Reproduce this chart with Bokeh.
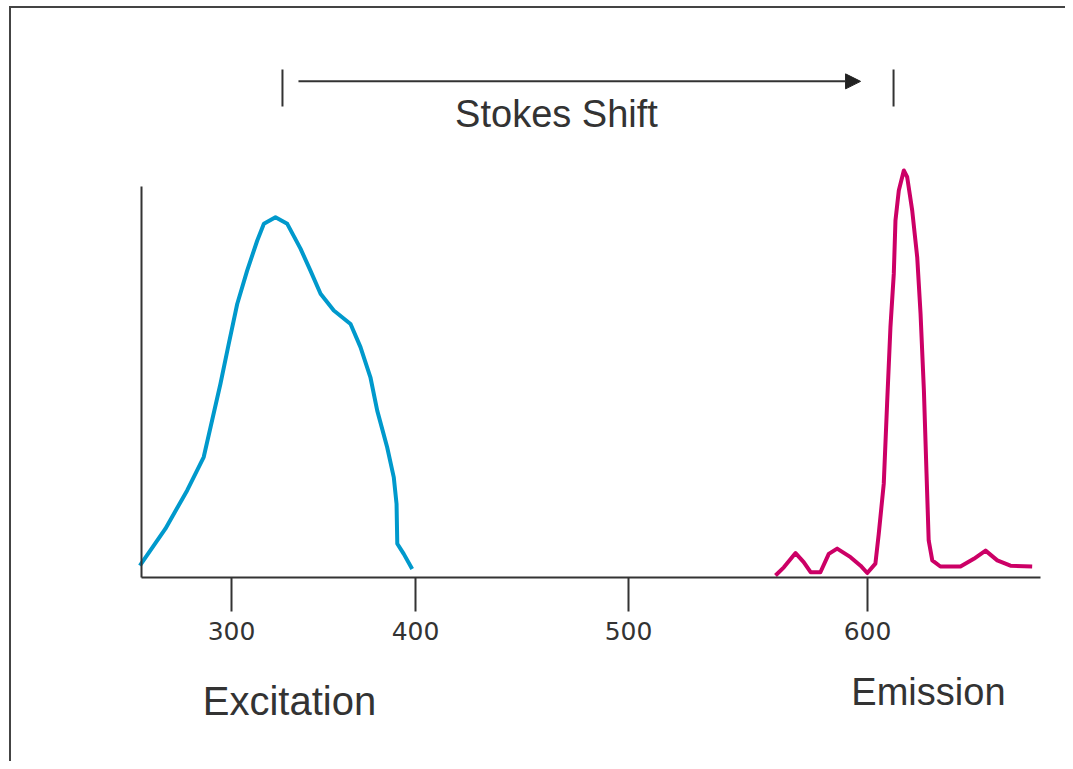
import numpy as np
from bokeh.plotting import figure
from bokeh.models import Range1d, FixedTicker, Arrow, NormalHead, Label
from bokeh.embed import file_html
from bokeh.resources import INLINE

# ---- nonlinear wavelength scale as drawn on the reference axis ----
tick_nm = [300, 400, 500, 600]
tick_labels = ["300", "400", "500", "600"]
tick_pos = [0, 184, 397, 636]  # relative axis positions of the ticks

# ---- data ----
exc_nm = [250.2, 264.1, 275.9, 284.9, 288.6, 294.0, 298.5, 303.1, 308.5, 314.0,
          317.6, 323.9, 330.3, 337.5, 342.9, 348.4, 355.6, 364.7, 370.1, 375.5,
          379.2, 384.6, 388.2, 389.7, 390.1, 393.6, 398.2]
exc_int = [2.9, 12.0, 21.4, 29.6, 36.9, 47.6, 57.4, 67.2, 75.4, 82.8,
           86.9, 88.5, 86.9, 80.8, 75.4, 69.7, 65.6, 62.3, 56.6, 49.2,
           41.0, 32.0, 24.6, 18.1, 8.3, 5.8, 2.1]

em_nm = [561.5, 565.0, 569.9, 573.3, 576.2, 580.3, 583.8, 587.3, 592.9, 597.1,
         599.9, 603.3, 604.7, 606.8, 608.2, 609.6, 611.0, 611.7, 613.1, 615.2,
         616.6, 618.7, 620.8, 622.2, 623.6, 624.7, 625.6, 627.1, 630.5, 638.9,
         644.5, 649.4, 654.3, 659.8, 668.9]
em_int = [0.5, 2.5, 6.0, 3.8, 1.3, 1.3, 5.8, 7.1, 5.0, 2.9,
          1.1, 3.4, 10.7, 23.0, 42.7, 61.5, 74.6, 87.7, 95.1, 100.0,
          98.4, 90.2, 78.7, 64.8, 45.9, 25.5, 9.1, 4.2, 2.7, 2.7,
          4.6, 6.6, 4.2, 2.9, 2.7]

stokes_nm = [327.7, 610.9]       # vertical markers
stokes_arrow_nm = [336.4, 597.1]  # arrow start / end
axis_nm = [251.2, 672.4]          # extent of the wavelength axis line
yaxis_top = 96.1

BLUE = "#0099cc"
MAGENTA = "#cc0066"
INK = "#333333"


def pos(nm):
    nm = np.asarray(nm, dtype=float)
    lo = (tick_pos[1] - tick_pos[0]) / (tick_nm[1] - tick_nm[0])
    hi = (tick_pos[-1] - tick_pos[-2]) / (tick_nm[-1] - tick_nm[-2])
    mid = np.interp(nm, tick_nm, tick_pos)
    return np.where(nm < tick_nm[0], tick_pos[0] + (nm - tick_nm[0]) * lo,
                    np.where(nm > tick_nm[-1], tick_pos[-1] + (nm - tick_nm[-1]) * hi, mid))


YS = 4.07  # px per intensity unit
x0, x1 = -231.0, 834.0
y1 = 577 / YS
y0 = -(761 - 577) / YS

p = figure(width=1065, height=761, x_range=Range1d(x0, x1), y_range=Range1d(y0, y1),
           output_backend="svg", toolbar_location=None, min_border=0)
p.outline_line_color = None
p.grid.visible = False
p.background_fill_color = "white"

# frame lines (left and top)
fl, ft = x0 + 9.5, y1 - 6.5 / YS
p.line([fl, fl, x1 + 10], [y0 - 10, ft, ft], line_color="#444444", line_width=2,
       line_join="miter")

# x axis
xa = p.xaxis[0]
xa.fixed_location = 0
xa.bounds = (float(pos(axis_nm[0])), float(pos(axis_nm[1])))
xa.ticker = FixedTicker(ticks=tick_pos)
xa.major_label_overrides = {tp: lab for tp, lab in zip(tick_pos, tick_labels)}
xa.major_tick_out = 34
xa.major_tick_in = 0
xa.minor_tick_line_color = None
xa.axis_line_color = INK
xa.axis_line_width = 2
xa.major_tick_line_color = INK
xa.major_tick_line_width = 2
xa.major_label_text_font = "DejaVu Sans"
xa.major_label_text_font_size = "25px"
xa.major_label_text_color = INK
xa.major_label_standoff = 10

# y axis (line only)
ya = p.yaxis[0]
ya.fixed_location = float(pos(axis_nm[0]))
ya.bounds = (0, yaxis_top)
ya.ticker = FixedTicker(ticks=[])
ya.major_tick_line_color = None
ya.minor_tick_line_color = None
ya.major_label_text_font_size = "0px"
ya.axis_line_color = INK
ya.axis_line_width = 2

# spectra
p.line(pos(exc_nm), exc_int, line_color=BLUE, line_width=4, line_join="round")
p.line(pos(em_nm), em_int, line_color=MAGENTA, line_width=4, line_join="round")

# Stokes shift markers
p.segment(x0=pos(stokes_nm), y0=[115.7, 115.7], x1=pos(stokes_nm), y1=[124.8, 124.8],
          line_color=INK, line_width=2)
p.add_layout(Arrow(end=NormalHead(size=15, fill_color="#222222", line_color="#222222"),
                   x_start=float(pos(stokes_arrow_nm[0])), y_start=121.9,
                   x_end=float(pos(stokes_arrow_nm[1])), y_end=121.9,
                   line_color=INK, line_width=2))

for txt, nm, yy, fs in [("Stokes Shift", 466.2, 113.9, "38px"),
                        ("Excitation", 331.5, -30.3, "40px"),
                        ("Emission", 625.5, -28.2, "38px")]:
    p.add_layout(Label(x=float(pos(nm)), y=yy, text=txt, text_align="center",
                       text_baseline="alphabetic", text_font="Liberation Sans",
                       text_font_size=fs, text_color=INK))

open("out.html", "w").write(file_html(p, INLINE))
